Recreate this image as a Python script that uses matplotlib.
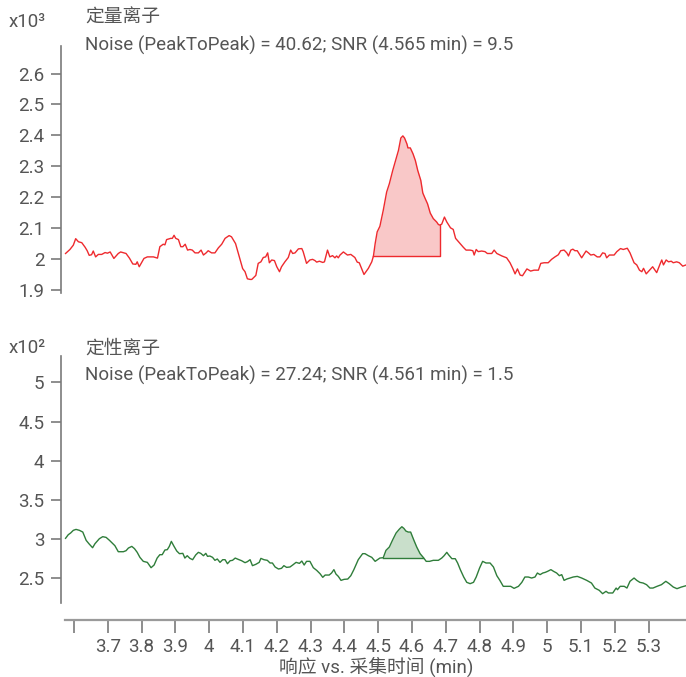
import matplotlib
matplotlib.use("Agg")
import matplotlib.pyplot as plt
import numpy as np

plt.rcParams['font.family'] = ['Roboto', 'Noto Sans CJK SC', 'DejaVu Sans']

# ---- data ----
quant_t = [3.575, 3.588, 3.598, 3.605, 3.613, 3.623, 3.633, 3.639, 3.645, 3.652, 3.657, 3.664, 3.672, 3.682,
           3.692, 3.699, 3.707, 3.718, 3.731, 3.738, 3.754, 3.764, 3.774, 3.783, 3.787, 3.793, 3.807, 3.817,
           3.835, 3.847, 3.854, 3.864, 3.869, 3.874, 3.886, 3.891, 3.896, 3.901, 3.909, 3.916, 3.922, 3.929,
           3.936, 3.943, 3.950, 3.958, 3.968, 3.976, 3.983, 3.991, 3.997, 4.007, 4.017, 4.027, 4.037, 4.047,
           4.059, 4.066, 4.078, 4.089, 4.099, 4.106, 4.113, 4.121, 4.126, 4.138, 4.145, 4.153, 4.160, 4.167,
           4.173, 4.178, 4.185, 4.193, 4.200, 4.208, 4.214, 4.224, 4.234, 4.241, 4.247, 4.254, 4.264, 4.274,
           4.278, 4.288, 4.298, 4.306, 4.313, 4.318, 4.326, 4.336, 4.341, 4.350, 4.357, 4.365, 4.372, 4.377,
           4.382, 4.387, 4.397, 4.409, 4.419, 4.431, 4.438, 4.444, 4.458, 4.471, 4.481, 4.486, 4.491, 4.497,
           4.505, 4.515, 4.525, 4.533, 4.543, 4.553, 4.560, 4.567, 4.573, 4.578, 4.585, 4.588, 4.595, 4.603,
           4.610, 4.617, 4.626, 4.632, 4.639, 4.646, 4.654, 4.663, 4.673, 4.678, 4.682, 4.688, 4.696, 4.703,
           4.714, 4.722, 4.729, 4.740, 4.752, 4.760, 4.772, 4.780, 4.784, 4.790, 4.796, 4.806, 4.816, 4.823,
           4.836, 4.843, 4.851, 4.866, 4.880, 4.890, 4.898, 4.905, 4.912, 4.920, 4.927, 4.940, 4.951, 4.961,
           4.974, 4.981, 4.991, 5.003, 5.013, 5.023, 5.033, 5.040, 5.050, 5.058, 5.063, 5.070, 5.076, 5.082,
           5.089, 5.097, 5.102, 5.115, 5.122, 5.129, 5.138, 5.148, 5.156, 5.164, 5.171, 5.176, 5.184, 5.198,
           5.206, 5.217, 5.225, 5.237, 5.245, 5.257, 5.265, 5.273, 5.280, 5.285, 5.293, 5.303, 5.312, 5.324,
           5.334, 5.339, 5.344, 5.352, 5.359, 5.367, 5.373, 5.383, 5.391, 5.401, 5.411]
quant_v = [2.017, 2.030, 2.044, 2.065, 2.055, 2.052, 2.037, 2.026, 2.011, 2.013, 2.025, 2.006, 2.014, 2.014,
           2.020, 2.018, 2.022, 2.001, 2.017, 2.022, 2.017, 2.002, 1.983, 1.982, 1.990, 1.974, 2.001, 2.006,
           2.006, 2.002, 2.039, 2.047, 2.045, 2.062, 2.066, 2.066, 2.076, 2.066, 2.062, 2.039, 2.039, 2.047,
           2.028, 2.030, 2.028, 2.019, 2.019, 2.028, 2.012, 2.019, 2.026, 2.019, 2.019, 2.035, 2.047, 2.066,
           2.075, 2.071, 2.049, 2.006, 1.968, 1.958, 1.935, 1.933, 1.933, 1.946, 1.985, 1.990, 2.004, 2.006,
           2.019, 1.987, 1.996, 1.994, 1.974, 1.958, 1.974, 1.990, 2.004, 2.028, 2.017, 2.019, 2.032, 2.033,
           2.023, 1.985, 1.996, 1.998, 1.994, 1.989, 1.992, 1.988, 1.990, 2.028, 2.006, 2.010, 2.003, 2.009,
           2.003, 2.012, 2.022, 2.012, 2.014, 2.004, 1.989, 1.987, 1.949, 1.969, 1.990, 2.009, 2.049, 2.087,
           2.105, 2.157, 2.216, 2.243, 2.286, 2.324, 2.351, 2.391, 2.398, 2.391, 2.372, 2.359, 2.359, 2.340,
           2.318, 2.286, 2.254, 2.213, 2.195, 2.178, 2.148, 2.130, 2.119, 2.111, 2.109, 2.112, 2.135, 2.119,
           2.100, 2.095, 2.066, 2.052, 2.037, 2.028, 2.028, 2.026, 2.012, 2.030, 2.023, 2.025, 2.023, 2.017,
           2.017, 2.028, 2.017, 2.009, 2.003, 1.987, 1.969, 1.951, 1.967, 1.947, 1.945, 1.967, 1.960, 1.963,
           1.963, 1.985, 1.987, 1.987, 1.998, 2.006, 2.013, 2.026, 2.028, 2.019, 2.009, 2.028, 2.031, 2.026,
           2.026, 2.012, 2.003, 2.025, 2.019, 2.012, 2.014, 2.006, 2.006, 2.019, 2.017, 2.003, 2.012, 2.012,
           2.023, 2.033, 2.030, 2.034, 2.019, 1.987, 1.980, 1.963, 1.958, 1.969, 1.951, 1.963, 1.974, 1.955,
           1.983, 1.996, 1.980, 1.996, 1.990, 1.992, 1.987, 1.990, 1.987, 1.976, 1.980]
quant_peak = (4.486, 4.682)
quant_base = 2.009

qual_t = [3.575, 3.583, 3.590, 3.598, 3.606, 3.616, 3.626, 3.636, 3.645, 3.655, 3.662, 3.675, 3.685, 3.695,
          3.705, 3.715, 3.721, 3.731, 3.746, 3.754, 3.761, 3.771, 3.779, 3.787, 3.795, 3.805, 3.817, 3.828,
          3.837, 3.846, 3.854, 3.861, 3.869, 3.876, 3.882, 3.888, 3.896, 3.904, 3.912, 3.922, 3.928, 3.935,
          3.943, 3.951, 3.960, 3.968, 3.975, 3.983, 3.990, 3.995, 4.002, 4.010, 4.017, 4.024, 4.032, 4.040,
          4.047, 4.054, 4.062, 4.069, 4.077, 4.086, 4.096, 4.106, 4.113, 4.121, 4.128, 4.138, 4.148, 4.153,
          4.162, 4.172, 4.180, 4.187, 4.195, 4.205, 4.214, 4.221, 4.229, 4.239, 4.247, 4.257, 4.267, 4.274,
          4.281, 4.288, 4.298, 4.308, 4.318, 4.328, 4.336, 4.343, 4.355, 4.362, 4.369, 4.375, 4.382, 4.390,
          4.399, 4.410, 4.419, 4.428, 4.441, 4.454, 4.461, 4.471, 4.481, 4.491, 4.498, 4.505, 4.515, 4.523,
          4.533, 4.543, 4.553, 4.563, 4.570, 4.576, 4.582, 4.589, 4.596, 4.605, 4.614, 4.624, 4.634, 4.642,
          4.652, 4.663, 4.678, 4.688, 4.695, 4.703, 4.708, 4.718, 4.728, 4.735, 4.743, 4.753, 4.762, 4.772,
          4.782, 4.790, 4.800, 4.809, 4.819, 4.831, 4.841, 4.851, 4.860, 4.870, 4.880, 4.892, 4.902, 4.915,
          4.925, 4.934, 4.944, 4.954, 4.964, 4.971, 4.979, 4.987, 4.994, 5.001, 5.011, 5.019, 5.028, 5.036,
          5.043, 5.050, 5.058, 5.068, 5.077, 5.089, 5.102, 5.117, 5.131, 5.141, 5.154, 5.164, 5.174, 5.181,
          5.194, 5.204, 5.208, 5.216, 5.228, 5.236, 5.245, 5.257, 5.265, 5.274, 5.284, 5.294, 5.304, 5.313,
          5.325, 5.338, 5.351, 5.361, 5.373, 5.384, 5.397, 5.411]
qual_v = [3.009, 3.055, 3.077, 3.111, 3.123, 3.111, 3.089, 2.983, 2.936, 2.889, 2.940, 3.004, 3.030, 3.021,
          2.983, 2.940, 2.915, 2.838, 2.838, 2.851, 2.885, 2.906, 2.877, 2.830, 2.766, 2.715, 2.702, 2.634,
          2.668, 2.757, 2.800, 2.800, 2.860, 2.864, 2.906, 2.970, 2.906, 2.847, 2.813, 2.817, 2.757, 2.787,
          2.753, 2.736, 2.796, 2.830, 2.817, 2.787, 2.817, 2.779, 2.783, 2.766, 2.728, 2.745, 2.702, 2.736,
          2.736, 2.685, 2.723, 2.728, 2.757, 2.740, 2.723, 2.698, 2.711, 2.736, 2.660, 2.677, 2.702, 2.753,
          2.736, 2.728, 2.694, 2.694, 2.643, 2.617, 2.626, 2.660, 2.638, 2.643, 2.668, 2.702, 2.689, 2.719,
          2.668, 2.715, 2.715, 2.634, 2.600, 2.557, 2.511, 2.540, 2.540, 2.566, 2.609, 2.553, 2.523, 2.472,
          2.485, 2.489, 2.532, 2.609, 2.736, 2.813, 2.813, 2.787, 2.766, 2.715, 2.736, 2.757, 2.762, 2.855,
          2.898, 2.991, 3.077, 3.128, 3.157, 3.136, 3.102, 3.089, 3.089, 2.991, 2.898, 2.813, 2.762, 2.715,
          2.715, 2.728, 2.728, 2.757, 2.787, 2.830, 2.800, 2.749, 2.749, 2.694, 2.609, 2.515, 2.447, 2.430,
          2.447, 2.515, 2.630, 2.715, 2.694, 2.694, 2.643, 2.532, 2.472, 2.396, 2.396, 2.396, 2.370, 2.396,
          2.447, 2.515, 2.515, 2.502, 2.515, 2.566, 2.545, 2.566, 2.574, 2.587, 2.609, 2.587, 2.566, 2.532,
          2.545, 2.472, 2.489, 2.502, 2.515, 2.523, 2.502, 2.472, 2.438, 2.374, 2.345, 2.302, 2.332, 2.311,
          2.311, 2.374, 2.353, 2.396, 2.396, 2.374, 2.460, 2.502, 2.472, 2.447, 2.438, 2.417, 2.374, 2.374,
          2.396, 2.417, 2.460, 2.430, 2.387, 2.366, 2.387, 2.404]
qual_peak = (4.515, 4.634)
qual_base = 2.762

x_ticks = [3.6, 3.7, 3.8, 3.9, 4.0, 4.1, 4.2, 4.3, 4.4, 4.5, 4.6, 4.7, 4.8, 4.9, 5.0, 5.1, 5.2, 5.3]
x_ticklabels = ['', '3.7', '3.8', '3.9', '4', '4.1', '4.2', '4.3', '4.4', '4.5', '4.6', '4.7', '4.8',
                '4.9', '5', '5.1', '5.2', '5.3']
top_yticks = [1.9, 2.0, 2.1, 2.2, 2.3, 2.4, 2.5, 2.6]
top_yticklabels = ['1.9', '2', '2.1', '2.2', '2.3', '2.4', '2.5', '2.6']
bot_yticks = [2.5, 3.0, 3.5, 4.0, 4.5, 5.0]
bot_yticklabels = ['2.5', '3', '3.5', '4', '4.5', '5']

titles = ['定量离子', '定性离子']
noise_texts = ['Noise (PeakToPeak) = 40.62; SNR (4.565 min) = 9.5',
               'Noise (PeakToPeak) = 27.24; SNR (4.561 min) = 1.5']
scale_texts = ['x10³', 'x10²']
xlabel = '响应 vs. 采集时间 (min)'

# ---- style ----
RED = '#ee2a2e'
RED_FILL = '#f9c8c8'
GREEN = '#2f7d3a'
GREEN_FILL = '#c9dfcb'
AX_COL = '#7a7a7a'
TXT_COL = '#555555'
FS = 13.5

fig = plt.figure(figsize=(6.86, 6.77), dpi=100)
xlim = (3.5615, 5.4107)

ax1 = fig.add_axes([0.0889, 0.5672, 0.9111, 0.3648])
ax2 = fig.add_axes([0.0889, 0.1093, 0.9111, 0.3648])


def draw(ax, t, v, peak, base, col, fcol):
    t = np.asarray(t)
    v = np.asarray(v)
    m = (t >= peak[0] - 1e-9) & (t <= peak[1] + 1e-9)
    ax.fill_between(t[m], v[m], base, color=fcol, lw=0, zorder=1)
    ax.plot(t, v, color=col, lw=1.0, zorder=3)
    ax.plot([peak[0], peak[1], peak[1]], [base, base, v[m][-1]], color=col, lw=1.0, zorder=3)


draw(ax1, quant_t, quant_v, quant_peak, quant_base, RED, RED_FILL)
draw(ax2, qual_t, qual_v, qual_peak, qual_base, GREEN, GREEN_FILL)

ax1.set_ylim(1.889, 2.689)
ax2.set_ylim(2.183, 5.337)
for ax in (ax1, ax2):
    ax.set_xlim(*xlim)
    ax.set_facecolor('none')
    for s in ('top', 'right'):
        ax.spines[s].set_visible(False)
    ax.spines['left'].set_color(AX_COL)
    ax.spines['left'].set_linewidth(1.2)
    ax.tick_params(axis='y', direction='out', length=7, width=1.2, color=AX_COL,
                   labelcolor=TXT_COL, labelsize=FS, pad=5)

ax1.set_yticks(top_yticks)
ax1.set_yticklabels(top_yticklabels)
ax2.set_yticks(bot_yticks)
ax2.set_yticklabels(bot_yticklabels)

ax1.spines['bottom'].set_visible(False)
ax1.set_xticks([])

ax2.spines['bottom'].set_position(('outward', 12))
ax2.spines['bottom'].set_bounds(3.573, xlim[1])
ax2.spines['bottom'].set_color('#9a9a9a')
ax2.spines['bottom'].set_linewidth(1.6)
ax2.set_xticks(x_ticks)
ax2.set_xticklabels(x_ticklabels)
ax2.tick_params(axis='x', direction='out', length=9, width=1.2, color=AX_COL,
                labelcolor=TXT_COL, labelsize=FS, pad=4)

fig.text(376 / 686, 1 - 667 / 677, xlabel, ha='center', va='center', fontsize=FS, color=TXT_COL)

# headers
for (yt, yn, ys), title, ntext, stext in zip([(18, 45, 22), (349, 375, 348)], titles, noise_texts,
                                             scale_texts):
    fig.text(85 / 686, 1 - yt / 677, title, ha='left', va='center', fontsize=FS, color=TXT_COL)
    fig.text(85 / 686, 1 - yn / 677, ntext, ha='left', va='center', fontsize=FS, color=TXT_COL)
    fig.text(9 / 686, 1 - ys / 677, stext, ha='left', va='center', fontsize=FS, color=TXT_COL)

fig.savefig('out.png', dpi=100)
